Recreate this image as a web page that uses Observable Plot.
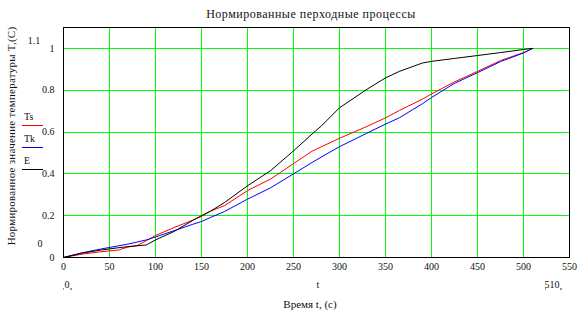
<!DOCTYPE html>
<html>
<head>
<meta charset="utf-8">
<script src="https://cdn.jsdelivr.net/npm/d3@7"></script>
<script src="https://cdn.jsdelivr.net/npm/@observablehq/plot@0.6"></script>
<style>
  html, body { margin: 0; padding: 0; background: #fff; }
  svg { display: block; }
</style>
</head>
<body>
<div id="chart"></div>
<script>
// Time, s
const t  = [0, 20, 40, 60, 70, 80, 90, 100, 120, 140, 150, 160, 175, 200, 225, 250, 270, 280, 300, 330, 350, 365, 390, 400, 425, 450, 475, 500, 510];
// Normalized transient responses
const Ts = [0, 0.016, 0.027, 0.036, 0.050, 0.057, 0.080, 0.105, 0.143, 0.178, 0.197, 0.222, 0.248, 0.320, 0.375, 0.449, 0.508, 0.529, 0.570, 0.627, 0.668, 0.703, 0.757, 0.782, 0.840, 0.890, 0.942, 0.980, 1.0];
const Tk = [0, 0.022, 0.040, 0.056, 0.064, 0.074, 0.084, 0.098, 0.128, 0.158, 0.172, 0.192, 0.220, 0.279, 0.333, 0.400, 0.454, 0.480, 0.530, 0.595, 0.638, 0.668, 0.735, 0.765, 0.833, 0.884, 0.937, 0.978, 1.0];
const E  = [0, 0.021, 0.035, 0.047, 0.052, 0.056, 0.060, 0.084, 0.124, 0.176, 0.200, 0.222, 0.263, 0.343, 0.415, 0.510, 0.590, 0.628, 0.716, 0.805, 0.859, 0.890, 0.930, 0.938, 0.952, 0.966, 0.980, 0.995, 1.0];

const seriesNames  = ["Ts", "Tk", "E"];
const seriesColors = ["#ff0000", "#0000ff", "#000000"];
const xTicks = [0, 50, 100, 150, 200, 250, 300, 350, 400, 450, 500, 550];
const yTicks = [0, 0.2, 0.4, 0.6, 0.8, 1];
const xGrid = [50, 100, 150, 200, 250, 300, 350, 400, 450, 500];
const yGrid = [0.2, 0.4, 0.6, 0.8, 1];

const title = "Нормированные перходные процессы";
const yTitle = "Нормированное значение температуры T,(C)";
const xTitle = "Время t, (с)";

const seriesValues = [Ts, Tk, E];
const rows = [];
seriesNames.forEach((s, i) => t.forEach((tt, j) => rows.push({s, t: tt, v: seriesValues[i][j]})));

const W = 586, H = 317;
const font = "'Liberation Serif', 'DejaVu Serif', serif";

const chart = Plot.plot({
  width: W,
  height: H,
  marginLeft: 63,
  marginRight: 17,
  marginTop: 27,
  marginBottom: 60,
  style: {fontFamily: font, fontSize: "10px", color: "#111", background: "#fff", overflow: "visible"},
  x: {domain: [0, 550]},
  y: {domain: [0, 1.1]},
  color: {domain: seriesNames, range: seriesColors},
  marks: [
    Plot.ruleX(xGrid, {stroke: "#00ff00", strokeWidth: 1, strokeOpacity: 1, shapeRendering: "crispEdges"}),
    Plot.ruleY(yGrid, {stroke: "#00ff00", strokeWidth: 1, strokeOpacity: 1, shapeRendering: "crispEdges"}),
    Plot.line(rows, {x: "t", y: "v", z: "s", stroke: "s", strokeWidth: 1}),
    Plot.frame({stroke: "#000", strokeWidth: 1, shapeRendering: "crispEdges"}),
    Plot.axisX({ticks: xTicks, tickSize: 0, tickPadding: 5, tickFormat: d => String(d), label: null, fontSize: 10}),
    Plot.axisY({ticks: yTicks, tickSize: 0, tickPadding: 9, tickFormat: d => String(d), label: null, fontSize: 10})
  ]
});

document.getElementById("chart").appendChild(chart);

const svg = d3.select(chart);
function txt(x, y, s, opts = {}) {
  const el = svg.append("text")
    .attr("x", x).attr("y", y)
    .attr("text-anchor", opts.anchor || "middle")
    .attr("dominant-baseline", "central")
    .attr("font-family", font)
    .attr("font-size", opts.size || 10)
    .attr("letter-spacing", opts.ls || 0)
    .attr("fill", opts.fill || "#111")
    .text(s);
  if (opts.rotate) el.attr("transform", `rotate(${opts.rotate},${x},${y})`);
  return el;
}

// Title
txt(311, 14, title, {size: 12, ls: 0.5});
// Y-axis title
txt(11, 136, yTitle, {size: 11, ls: 0.25, rotate: -90});
// Axis limit labels (Mathcad style)
txt(34, 40, "1.1");
txt(40, 243, "0");
txt(67, 284, "0");
txt(318, 284, "t");
txt(552, 284, "510");
// tiny placeholder marks
[[63, 289, 64, 289], [70, 289, 72, 289], [545, 289, 546, 289], [560, 289, 562, 289]].forEach(([x1, y1, x2, y2]) =>
  svg.append("line").attr("x1", x1).attr("y1", y1).attr("x2", x2).attr("y2", y2).attr("stroke", "#333").attr("stroke-width", 1));
// X-axis title
txt(310, 304, xTitle, {size: 11});

// Legend
const legendY = [116, 138, 160];
seriesNames.forEach((s, i) => {
  txt(24, legendY[i], s, {anchor: "start", size: 10});
  svg.append("line")
    .attr("x1", 22).attr("x2", 43)
    .attr("y1", legendY[i] + 9.5).attr("y2", legendY[i] + 9.5)
    .attr("stroke", seriesColors[i]).attr("stroke-width", 1);
});
</script>
</body>
</html>
